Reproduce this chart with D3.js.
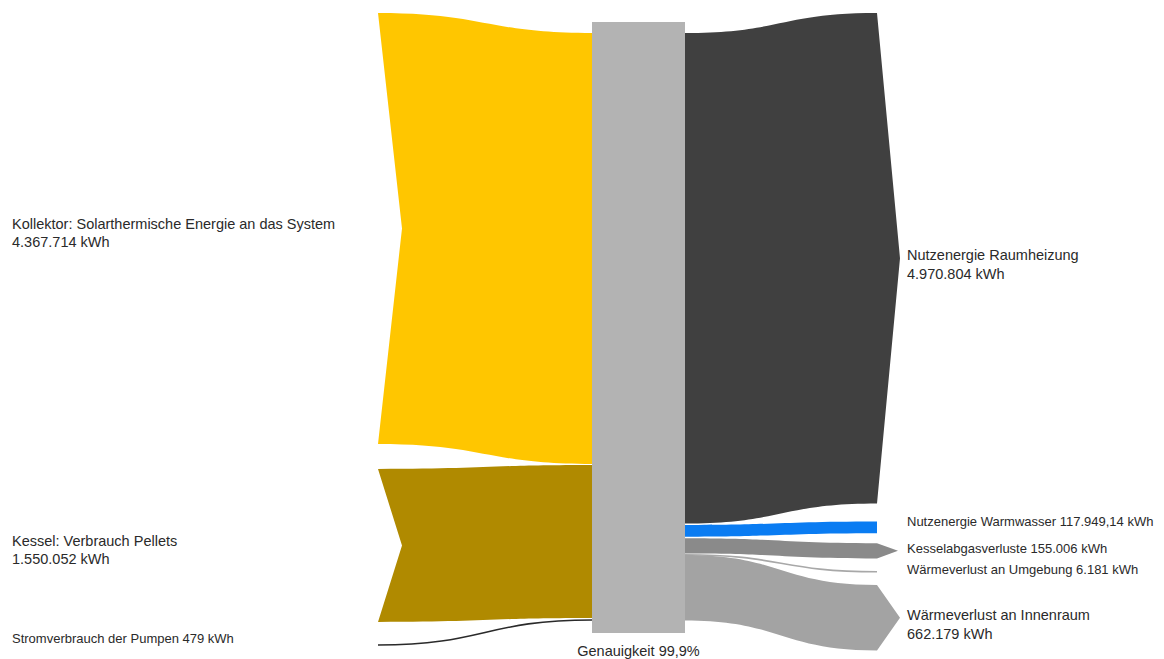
<!DOCTYPE html>
<html><head><meta charset="utf-8">
<script src="https://cdn.jsdelivr.net/npm/d3@7"></script>
<style>body{margin:0;background:#fff}svg{display:block}text{font-family:"Liberation Sans",Arial,sans-serif;fill:#2a2a2a}</style>
</head><body><svg id="c" width="1164" height="659"></svg>
<script>
// ---- data ----
const sourceNames = ["Kollektor: Solarthermische Energie an das System", "Kessel: Verbrauch Pellets", "Stromverbrauch der Pumpen"];
const sourceValues = [4367714, 1550052, 479];
const sourceValueLabels = ["4.367.714 kWh", "1.550.052 kWh", "479 kWh"];
const sourceColors = ["#ffc600", "#b08a00", "#2a2a2a"];
const targetNames = ["Nutzenergie Raumheizung", "Nutzenergie Warmwasser", "Kesselabgasverluste", "Wärmeverlust an Umgebung", "Wärmeverlust an Innenraum"];
const targetValues = [4970804, 117949.14, 155006, 6181, 662179];
const targetValueLabels = ["4.970.804 kWh", "117.949,14 kWh", "155.006 kWh", "6.181 kWh", "662.179 kWh"];
const targetColors = ["#404040", "#0a7cf2", "#8a8a8a", "#a8a8a8", "#a3a3a3"];
const centerLabel = "Genauigkeit 99,9%";

// ---- layout ----
const svg = d3.select("#c");
const totalIn = d3.sum(sourceValues);
const h = d3.scaleLinear().domain([0, totalIn]).range([0, 584]);
const x = d3.scaleOrdinal().domain(["srcEnd", "nodeL", "nodeR", "tgtEnd"]).range([378, 592, 685, 877]);
const nodeTop = 22, nodeBottom = 633, flowTop = 33;
const bigFont = "14.5px", smallFont = "13px";

const srcEndGaps = [13, 25, 23];
const srcNodeGaps = [0, 1, 2];
const tgtNodeGaps = [0, 1.5, 1.5, 1, 0];
const tgtEndGaps = [13, 18, 10, 13, 13];
const tgtCaps = ["arrow", "flat", "arrow", "line", "arrow"];
const srcCaps = ["notch", "notch", "line"];

function stack(values, start, gaps) {
  let y = start; const out = [];
  values.forEach((v, i) => { y += gaps[i]; const t = h(v); out.push([y, y + t]); y += t; });
  return out;
}

const srcEnd = stack(sourceValues, 0, srcEndGaps);
const srcNode = stack(sourceValues, flowTop, srcNodeGaps);
const tgtNode = stack(targetValues, flowTop, tgtNodeGaps);
const tgtEnd = stack(targetValues, 0, tgtEndGaps);

function curve(xa, ya, xb, yb) {
  const xm = (xa + xb) / 2;
  return `C${xm},${ya} ${xm},${yb} ${xb},${yb}`;
}

// source flows
sourceValues.forEach((v, i) => {
  const x0 = x("srcEnd"), x1 = x("nodeL");
  const [a0, a1] = srcEnd[i], [b0, b1] = srcNode[i];
  if (srcCaps[i] === "line") {
    svg.append("path").attr("d", `M${x0},${(a0 + a1) / 2}` + curve(x0, (a0 + a1) / 2, x1, (b0 + b1) / 2))
      .attr("fill", "none").attr("stroke", sourceColors[i]).attr("stroke-width", 1.6);
    return;
  }
  const notch = 24;
  const d = `M${x0},${a0}` + curve(x0, a0, x1, b0) + `L${x1},${b1}` + curve(x1, b1, x0, a1) +
    `L${x0 + notch},${(a0 + a1) / 2}Z`;
  svg.append("path").attr("d", d).attr("fill", sourceColors[i]);
});

// target flows
targetValues.forEach((v, i) => {
  const x0 = x("nodeR"), x1 = x("tgtEnd");
  const [a0, a1] = tgtNode[i], [b0, b1] = tgtEnd[i];
  if (tgtCaps[i] === "line") {
    svg.append("path").attr("d", `M${x0},${(a0 + a1) / 2}` + curve(x0, (a0 + a1) / 2, x1, (b0 + b1) / 2))
      .attr("fill", "none").attr("stroke", targetColors[i]).attr("stroke-width", 1.6);
    return;
  }
  let cap = `L${x1},${b1}`;
  if (tgtCaps[i] === "arrow") {
    const tip = i === 2 ? 25 : 23;
    const xe = i === 2 ? x1 - 4 : x1;
    cap = `L${xe + tip},${(b0 + b1) / 2}L${x1},${b1}`;
  }
  const d = `M${x0},${a0}` + curve(x0, a0, x1, b0) + cap + curve(x1, b1, x0, a1) + "Z";
  svg.append("path").attr("d", d).attr("fill", targetColors[i]);
});

// center node
svg.append("rect").attr("x", x("nodeL")).attr("y", nodeTop)
  .attr("width", x("nodeR") - x("nodeL")).attr("height", nodeBottom - nodeTop).attr("fill", "#b3b3b3");
svg.append("text").attr("x", (x("nodeL") + x("nodeR")) / 2).attr("y", 656)
  .attr("text-anchor", "middle").style("font-size", bigFont).text(centerLabel);

// labels
const lx = 12, rx = 907;
sourceNames.forEach((n, i) => {
  const mid = (srcEnd[i][0] + srcEnd[i][1]) / 2;
  if (srcCaps[i] === "line") {
    svg.append("text").attr("x", lx).attr("y", mid - 2).style("font-size", smallFont).text(n + " " + sourceValueLabels[i]);
  } else {
    svg.append("text").attr("x", lx).attr("y", mid + 1).style("font-size", bigFont).text(n);
    svg.append("text").attr("x", lx).attr("y", mid + 19).style("font-size", bigFont).text(sourceValueLabels[i]);
  }
});
const twoLine = [true, false, false, false, true];
const singleOffset = [0, -5, -2, -2, 0];
targetNames.forEach((n, i) => {
  const mid = (tgtEnd[i][0] + tgtEnd[i][1]) / 2;
  if (twoLine[i]) {
    svg.append("text").attr("x", rx).attr("y", mid + 2).style("font-size", bigFont).text(n);
    svg.append("text").attr("x", rx).attr("y", mid + 21).style("font-size", bigFont).text(targetValueLabels[i]);
  } else {
    svg.append("text").attr("x", rx).attr("y", mid + 4 + singleOffset[i]).style("font-size", smallFont)
      .text(n + " " + targetValueLabels[i]);
  }
});
</script></body></html>
